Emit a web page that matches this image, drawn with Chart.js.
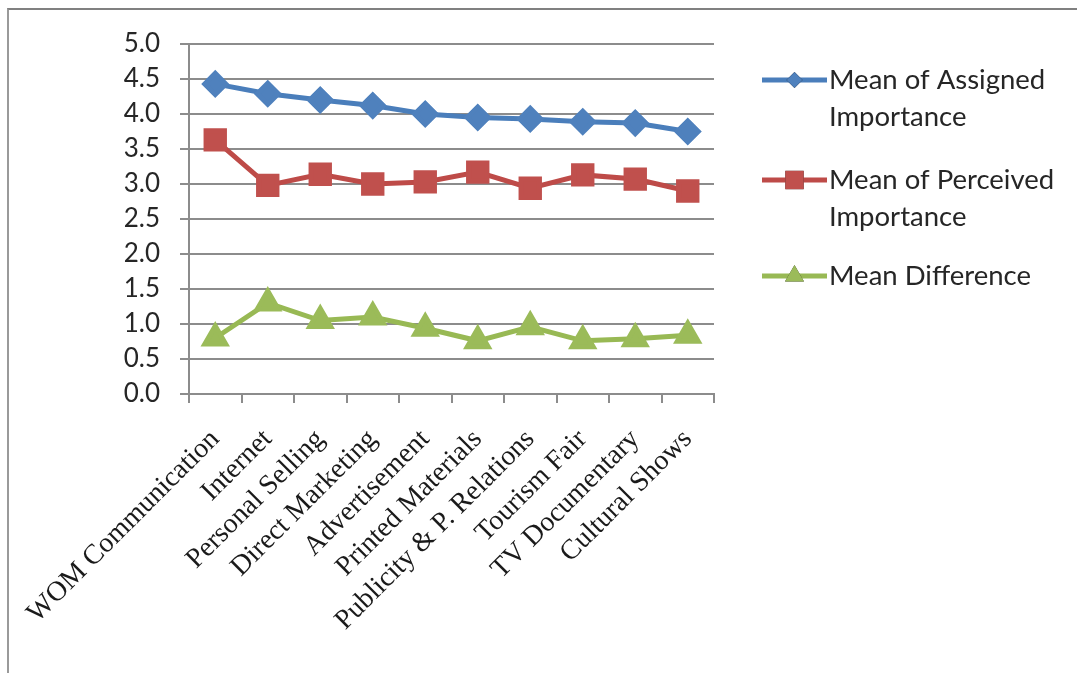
<!DOCTYPE html>
<html>
<head>
<meta charset="utf-8">
<script src="https://cdn.jsdelivr.net/npm/chart.js@4/dist/chart.umd.min.js"></script>
<style>
  html, body { margin: 0; padding: 0; background: #ffffff; }
  #wrap { position: relative; width: 1077px; height: 673px; overflow: hidden; }
  #frame { position: absolute; left: 7px; top: 8px; right: -4px; bottom: -4px;
           border-top: 2px solid #808080; border-left: 2px solid #9a9a9a; }
  canvas { position: absolute; left: 0; top: 0; }
</style>
</head>
<body>
<div id="wrap">
  <canvas id="chart" width="1077" height="673"></canvas>
  <div id="frame"></div>
</div>
<script>
// Promotion channels rated by respondents
const categories = [
  'WOM Communication', 'Internet', 'Personal Selling', 'Direct Marketing',
  'Advertisement', 'Printed Materials', 'Publicity & P. Relations',
  'Tourism Fair', 'TV Documentary', 'Cultural Shows'
];
const assignedImportance  = [4.43, 4.29, 4.20, 4.12, 4.00, 3.95, 3.93, 3.89, 3.87, 3.75];
const perceivedImportance = [3.63, 2.98, 3.14, 3.00, 3.03, 3.17, 2.94, 3.13, 3.07, 2.90];
const meanDifference      = [0.80, 1.30, 1.05, 1.10, 0.94, 0.76, 0.96, 0.76, 0.79, 0.84];
const seriesNames = ['Mean of Assigned Importance', 'Mean of Perceived Importance', 'Mean Difference'];
const yTicks = [0, 0.5, 1, 1.5, 2, 2.5, 3, 3.5, 4, 4.5, 5];

const sansFont = "Lato, 'Open Sans', sans-serif";
const serifFont = "'Liberation Serif', 'Times New Roman', serif";

// Legend drawn at the right, with wrapped labels like a spreadsheet legend
const sideLegend = {
  id: 'sideLegend',
  afterDraw(chart) {
    const ctx = chart.ctx;
    const x0 = 762, lineLen = 65, textX = 829, maxWidth = 245, lineH = 37;
    const starts = [80, 180, 276];
    ctx.save();
    ctx.font = '27.5px ' + sansFont;
    ctx.textBaseline = 'middle';
    chart.data.datasets.forEach((ds, i) => {
      const y = starts[i];
      ctx.strokeStyle = ds.borderColor;
      ctx.lineWidth = ds.borderWidth;
      ctx.beginPath();
      ctx.moveTo(x0, y);
      ctx.lineTo(x0 + lineLen, y);
      ctx.stroke();
      Chart.helpers.drawPoint(ctx, {
        pointStyle: ds.pointStyle,
        radius: ds.legendRadius,
        borderWidth: 0
      }, x0 + lineLen / 2, y);
      ctx.fillStyle = ds.pointBackgroundColor;
      ctx.fill();
      // word-wrap the series name
      const words = ds.label.split(' ');
      const lines = [];
      let cur = '';
      words.forEach(w => {
        const t = cur ? cur + ' ' + w : w;
        if (ctx.measureText(t).width > maxWidth && cur) { lines.push(cur); cur = w; }
        else cur = t;
      });
      lines.push(cur);
      ctx.fillStyle = '#262626';
      lines.forEach((ln, k) => ctx.fillText(ln, textX, y + k * lineH));
    });
    ctx.restore();
  }
};

const chart = new Chart(document.getElementById('chart'), {
  type: 'line',
  data: {
    labels: categories,
    datasets: [
      { label: seriesNames[0], data: assignedImportance,
        borderColor: '#4A7EBB', backgroundColor: '#4F81BD',
        pointBackgroundColor: '#4F81BD', pointBorderColor: '#4F81BD',
        pointStyle: 'rectRot', pointRadius: 10.5, legendRadius: 8, borderWidth: 5 },
      { label: seriesNames[1], data: perceivedImportance,
        borderColor: '#BE4B48', backgroundColor: '#C0504D',
        pointBackgroundColor: '#C0504D', pointBorderColor: '#C0504D',
        pointStyle: 'rect', pointRadius: 13, legendRadius: 13, borderWidth: 5 },
      { label: seriesNames[2], data: meanDifference,
        borderColor: '#98B954', backgroundColor: '#9BBB59',
        pointBackgroundColor: '#9BBB59', pointBorderColor: '#9BBB59',
        pointStyle: 'triangle', pointRadius: 12, legendRadius: 11, borderWidth: 5 }
    ]
  },
  options: {
    responsive: false,
    animation: false,
    layout: { padding: { top: 44, right: 363, bottom: 0, left: 0 } },
    plugins: { legend: { display: false }, tooltip: { enabled: false } },
    elements: { line: { tension: 0 }, point: { borderWidth: 1 } },
    scales: {
      x: {
        offset: true,
        grid: { offset: true, drawOnChartArea: false, color: '#8c8c8c', lineWidth: 2, tickLength: 9 },
        border: { color: '#8c8c8c', width: 2 },
        ticks: {
          autoSkip: false, minRotation: 45, maxRotation: 45, padding: 20,
          color: '#1a1a1a', font: { family: serifFont, size: 28 }
        },
        afterFit(scale) { scale.height = 673 - 394; }
      },
      y: {
        min: 0, max: 5,
        afterBuildTicks(scale) { scale.ticks = yTicks.map(v => ({ value: v })); },
        grid: { color: '#8c8c8c', lineWidth: 2, tickLength: 9 },
        border: { color: '#8c8c8c', width: 2 },
        ticks: {
          padding: 20, color: '#262626',
          font: { family: sansFont, size: 26 },
          callback: v => Number(v).toFixed(1)
        },
        afterFit(scale) { scale.width = 189; }
      }
    }
  },
  plugins: [sideLegend]
});
</script>
</body>
</html>
